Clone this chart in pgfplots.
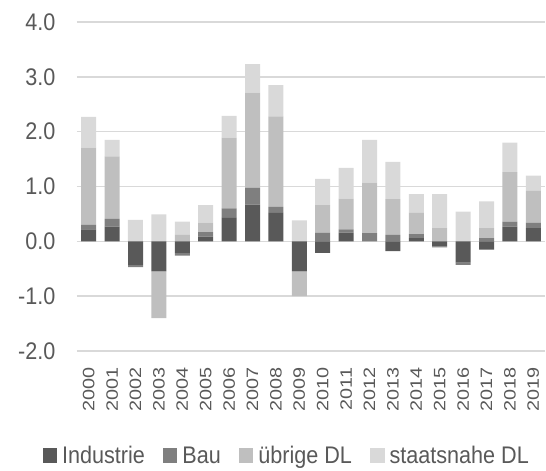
\documentclass[border=0pt]{standalone}
\usepackage{pgfplots}
\pgfplotsset{compat=1.18}
\usepackage{pgfplotstable}
\usepackage{fontspec}
\setmainfont{Liberation Sans}
\newfontfamily\condensed[FakeStretch=0.9]{Liberation Sans}
\newfontfamily\widened[FakeStretch=1.2]{Liberation Sans}
\definecolor{cInd}{HTML}{595959}
\definecolor{cBau}{HTML}{7F7F7F}
\definecolor{cUeb}{HTML}{BFBFBF}
\definecolor{cSta}{HTML}{D9D9D9}
\definecolor{txt}{HTML}{595959}
\definecolor{grd}{HTML}{D9D9D9}

% positive contributions
\pgfplotstableread{
x ind bau ueb sta
0 0.22 0.08 1.41 0.56
1 0.27 0.14 1.14 0.30
2 0 0 0 0.39
3 0 0 0 0.49
4 0 0 0.12 0.24
5 0.085 0.085 0.17 0.32
6 0.43 0.17 1.29 0.40
7 0.67 0.31 1.73 0.52
8 0.52 0.11 1.65 0.57
9 0 0 0 0.38
10 0 0.16 0.50 0.48
11 0.16 0.06 0.56 0.56
12 0 0.15 0.92 0.78
13 0 0.12 0.65 0.68
14 0.06 0.07 0.39 0.34
15 0 0 0.24 0.62
16 0 0 0 0.54
17 0 0.06 0.18 0.49
18 0.27 0.09 0.90 0.54
19 0.24 0.10 0.58 0.28
}\pos

% negative contributions
\pgfplotstableread{
x ind bau ueb sta
0 0 0 0 0
1 0 0 0 0
2 -0.43 -0.04 0 0
3 -0.55 0 -0.85 0
4 -0.21 -0.05 0 0
5 0 0 0 0
6 0 0 0 0
7 0 0 0 0
8 0 0 0 0
9 -0.55 0 -0.45 0
10 -0.21 0 0 0
11 0 0 0 0
12 0 0 0 0
13 -0.18 0 0 0
14 0 0 0 0
15 -0.09 -0.02 0 0
16 -0.39 -0.04 0 0
17 -0.15 0 0 0
18 0 0 0 0
19 0 0 0 0
}\negt

\pgfplotsset{
  common/.style={
    width=468pt, height=329pt, scale only axis,
    at={(0,0)}, anchor=south west,
    xmin=-0.5, xmax=19.5, ymin=-2, ymax=4,
    ybar stacked, bar width=15pt,
  },
  sq/.style={legend image code/.code={\fill[##1] (0pt,-7pt) rectangle (14.5pt,7.5pt);}},
}

\begin{document}
\begin{tikzpicture}
\path[use as bounding box] (-77pt,-120pt) rectangle (469pt,351pt);
\begin{axis}[common,
  axis line style={draw=none},
  major tick length=0pt,
  ymajorgrids, grid style={grd, line width=1.5pt},
  ytick={-2,-1,0,1,2,3,4},
  xtick={0,...,19},
  xticklabels={2000,2001,2002,2003,2004,2005,2006,2007,2008,2009,2010,2011,2012,2013,2014,2015,2016,2017,2018,2019},
  /pgf/number format/.cd, fixed, fixed zerofill, precision=1, assume math mode=true, /pgfplots/.cd,
  yticklabel style={font=\condensed\fontsize{24}{28}\selectfont, text=txt},
  xticklabel style={font=\widened\fontsize{16.5}{19}\selectfont, text=txt, rotate=90, anchor=east},
  yticklabel shift=18pt,
  xticklabel shift=13pt,
  legend columns=-1,
  legend style={draw=none, fill=none, at={(0.447,-0.319)}, anchor=center,
    font=\condensed\fontsize{24}{28}\selectfont, text=txt,
    nodes={inner sep=1pt},
    /tikz/every odd column/.append style={column sep=4pt},
    /tikz/every even column/.append style={column sep=17pt}},
]
\addplot[fill=cInd, draw=none, sq] table[x=x, y=ind] {\pos};
\addplot[fill=cBau, draw=none, sq] table[x=x, y=bau] {\pos};
\addplot[fill=cUeb, draw=none, sq] table[x=x, y=ueb] {\pos};
\addplot[fill=cSta, draw=none, sq] table[x=x, y=sta] {\pos};
\legend{Industrie, Bau, übrige DL, staatsnahe DL}
\end{axis}
\begin{axis}[common, hide axis]
\addplot[fill=cInd, draw=none] table[x=x, y=ind] {\negt};
\addplot[fill=cBau, draw=none] table[x=x, y=bau] {\negt};
\addplot[fill=cUeb, draw=none] table[x=x, y=ueb] {\negt};
\addplot[fill=cSta, draw=none] table[x=x, y=sta] {\negt};
\end{axis}
\end{tikzpicture}
\end{document}
